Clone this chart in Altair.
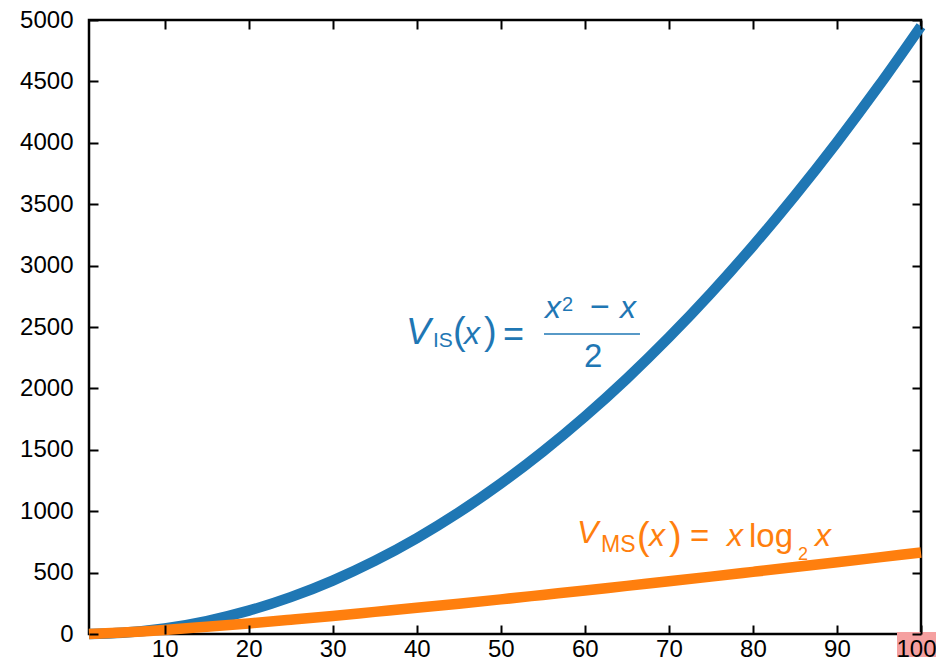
import altair as alt
import pandas as pd

# values
xs = [1, 5, 10, 15, 20, 25, 30, 35, 40, 45, 50, 55, 60, 65, 70, 75, 80, 85, 90, 95, 100]
v_is = [0, 10, 45, 105, 190, 300, 435, 595, 780, 990, 1225, 1485, 1770, 2080, 2415,
        2775, 3160, 3570, 4005, 4465, 4950]
v_ms = [0, 12, 33, 59, 86, 116, 147, 180, 213, 247, 282, 318, 354, 392, 429,
        467, 506, 545, 584, 624, 664]
x_ticks = [10, 20, 30, 40, 50, 60, 70, 80, 90, 100]
y_ticks = [0, 500, 1000, 1500, 2000, 2500, 3000, 3500, 4000, 4500, 5000]

BLUE = "#1f77b4"
ORANGE = "#ff7f0e"
FONT = "Liberation Sans"

df = pd.DataFrame({"x": xs, "v_is": v_is, "v_ms": v_ms})
one = pd.DataFrame({"k": [0]})

xscale = alt.Scale(domain=[1, 100], nice=False, zero=False)
yscale = alt.Scale(domain=[0, 5000], nice=False)

common = dict(offset=-9, tickSize=9, tickWidth=2, tickColor="black", domain=False,
              grid=False, title=None, labelFont=FONT, labelFontSize=24,
              labelColor="black", labelOverlap=False, zindex=1, format="d")

ax_bottom = alt.Axis(orient="bottom", values=x_ticks, labelPadding=3,
                     labelFlush=1, labelFlushOffset=15, **common)
ax_left = alt.Axis(orient="left", values=y_ticks, labelPadding=16, labelFlush=False, **common)
ax_top = alt.Axis(orient="top", values=x_ticks, labels=False, **common)
ax_right = alt.Axis(orient="right", values=y_ticks, labels=False, **common)

blue = alt.Chart(df).mark_line(color=BLUE, strokeWidth=10.5, strokeCap="butt",
                               interpolate="monotone").encode(
    x=alt.X("x:Q", scale=xscale, axis=ax_bottom),
    y=alt.Y("v_is:Q", scale=yscale, axis=ax_left),
)
orange = alt.Chart(df).mark_line(color=ORANGE, strokeWidth=10.5, strokeCap="butt",
                                 interpolate="monotone").encode(
    x=alt.X("x:Q", scale=xscale, axis=ax_top),
    y=alt.Y("v_ms:Q", scale=yscale, axis=ax_right),
)


def piece(txt, xv, yv, size, italic, color):
    return alt.Chart(one).mark_text(
        text=txt, font=FONT, fontSize=size,
        fontStyle="italic" if italic else "normal",
        color=color, align="left", baseline="alphabetic",
    ).encode(
        x=alt.XDatum(xv, type="quantitative", scale=xscale, axis=None),
        y=alt.YDatum(yv, type="quantitative", scale=yscale, axis=None),
    )


labels = [
    # V_IS(x) = (x^2 - x)/2
    piece("V", 38.72, 2362, 37, True, BLUE),
    piece("IS", 41.93, 2337, 21, False, BLUE),
    piece("(", 44.31, 2362, 38, False, BLUE),
    piece("x", 45.62, 2362, 32, True, BLUE),
    piece(")", 48.00, 2362, 38, False, BLUE),
    piece("=", 50.26, 2346, 36, False, BLUE),
    piece("x", 55.26, 2573, 32, True, BLUE),
    piece("2", 57.28, 2630, 20, False, BLUE),
    piece("\u2212", 60.62, 2573, 34, False, BLUE),
    piece("x", 64.19, 2573, 32, True, BLUE),
    piece("2", 59.90, 2174, 33, False, BLUE),
    # V_MS(x) = x log2 x
    piece("V", 59.07, 741, 32, True, ORANGE),
    piece("MS", 61.92, 668, 23, False, ORANGE),
    piece("(", 66.21, 692, 38, False, ORANGE),
    piece("x", 67.63, 717, 32, True, ORANGE),
    piece(")", 70.01, 692, 38, False, ORANGE),
    piece("=", 72.51, 708, 33, False, ORANGE),
    piece("x", 76.92, 717, 32, True, ORANGE),
    piece("log", 79.53, 708, 33, False, ORANGE),
    piece("2", 85.37, 603, 18, False, ORANGE),
    piece("x", 87.39, 717, 32, True, ORANGE),
]

frac_bar = alt.Chart(one).mark_rule(color=BLUE, strokeWidth=1.6).encode(
    x=alt.XDatum(55.14, type="quantitative", scale=xscale, axis=None),
    x2=alt.X2Datum(66.56),
    y=alt.YDatum(2443, type="quantitative", scale=yscale, axis=None),
)

highlight = alt.Chart(one).mark_rect(color="#f5a0a0", xOffset=-24, x2Offset=22).encode(
    x=alt.XDatum(100, type="quantitative", scale=xscale, axis=None),
    x2=alt.X2Datum(100),
    y=alt.value(612),
    y2=alt.value(655),
)

chart = alt.layer(highlight, blue, orange, frac_bar, *labels).resolve_axis(
    x="independent", y="independent"
).properties(
    width=832, height=614,
    autosize=alt.AutoSizeParams(type="none"),
    padding={"left": 81, "top": 12, "right": 15, "bottom": 23},
).configure_view(stroke="black", strokeWidth=2.5)

chart.save("out.html", embed_options={"renderer": "svg", "actions": False})
